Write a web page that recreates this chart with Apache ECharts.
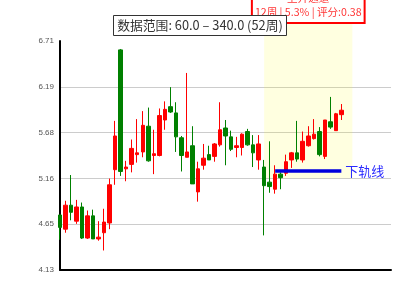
<!DOCTYPE html>
<html>
<head>
<meta charset="utf-8">
<script src="https://cdn.jsdelivr.net/npm/echarts@6/dist/echarts.min.js"></script>
<style>html,body{margin:0;padding:0;background:#fff}#c{width:400px;height:300px}</style>
</head>
<body>
<div id="c"></div>
<script>
// week categories (52 weeks of data)
var weeks = ['W01','W02','W03','W04','W05','W06','W07','W08','W09','W10','W11','W12','W13','W14','W15','W16','W17','W18','W19','W20','W21','W22','W23','W24','W25','W26','W27','W28','W29','W30','W31','W32','W33','W34','W35','W36','W37','W38','W39','W40','W41','W42','W43','W44','W45','W46','W47','W48','W49','W50','W51','W52'];
var openV  = [4.75,4.59,4.86,4.68,4.84,4.49,4.74,4.48,4.55,4.66,5.26,6.61,5.27,5.32,5.43,5.46,5.75,5.42,5.42,5.82,5.97,5.90,5.62,5.40,5.53,5.01,5.31,5.43,5.41,5.54,5.73,5.63,5.51,5.51,5.69,5.54,5.37,5.29,5.12,5.04,5.21,5.22,5.37,5.45,5.37,5.53,5.61,5.69,5.41,5.80,5.70,5.88];
var closeV = [4.61,4.86,4.78,4.84,4.49,4.74,4.48,4.50,4.67,5.09,5.64,5.24,5.29,5.50,5.45,5.76,5.36,5.44,5.87,5.94,5.91,5.63,5.42,5.46,5.10,5.27,5.39,5.37,5.55,5.71,5.64,5.49,5.53,5.66,5.54,5.45,5.55,5.08,5.07,5.21,5.17,5.35,5.45,5.38,5.58,5.64,5.66,5.43,5.82,5.74,5.89,5.93];
var lowV   = [4.47,4.55,4.69,4.65,4.48,4.48,4.48,4.46,4.35,4.59,5.09,5.19,5.13,5.23,5.34,5.40,5.35,5.21,5.41,5.71,5.90,5.46,5.24,5.40,5.10,4.90,5.26,5.37,5.35,5.52,5.31,5.47,5.40,5.42,5.53,5.29,5.26,4.52,5.00,4.99,5.04,5.19,5.28,5.35,5.34,5.52,5.60,5.41,5.38,5.72,5.70,5.82];
var highV  = [4.75,4.91,5.20,4.92,4.89,4.80,4.81,4.68,4.82,5.16,5.81,6.62,5.36,5.60,5.83,5.92,5.96,5.71,5.95,6.03,6.19,6.02,5.64,6.35,5.75,5.35,5.55,5.53,5.56,6.02,5.82,5.70,5.63,5.67,5.72,5.65,5.65,5.37,5.58,5.31,5.23,5.43,5.46,5.81,5.69,5.75,5.83,5.74,5.82,6.08,5.90,6.00];
var yTickLabels = ['4.13','4.65','5.16','5.68','6.19','6.71'];
var titleText = '数据范围: 60.0 – 340.0 (52周)';
var channelText = '上升通道\n12周 | 5.3% | 评分:0.38';
var lowerLineName = '下轨线';
var lowerLineValue = 5.245;
var lowerLineStart = 39, lowerLineEnd = 51;
var channelStart = 37, channelEnd = 53, channelTop = 6.924, channelBottom = 5.165;

var kData = openV.map(function (o, i) { return [o, closeV[i], lowV[i], highV[i]]; });

var chart = echarts.init(document.getElementById('c'), null, {renderer: 'canvas'});
chart.setOption({
  animation: false,
  textStyle: {fontFamily: '"Noto Sans CJK SC", "Noto Sans", sans-serif'},
  title: {
    text: titleText,
    left: 'center',
    top: 15,
    padding: [4, 4],
    borderColor: '#333',
    borderWidth: 1,
    backgroundColor: '#fff',
    textStyle: {fontSize: 12.8, fontWeight: 'normal', color: '#333', fontFamily: '"Noto Sans CJK SC", sans-serif'}
  },
  grid: {left: 60, right: 9, top: 41, bottom: 30},
  xAxis: {
    type: 'category',
    data: weeks,
    boundaryGap: false,
    max: 60,
    axisLine: {lineStyle: {color: '#000', width: 2}},
    axisTick: {show: false},
    axisLabel: {show: false},
    splitLine: {show: false}
  },
  yAxis: {
    type: 'value',
    min: 4.13,
    max: 6.71,
    interval: 0.516,
    axisLine: {show: true, lineStyle: {color: '#000', width: 2}},
    axisTick: {show: false},
    axisLabel: {
      fontSize: 8,
      color: '#555',
      margin: 6,
      fontFamily: '"Liberation Sans", sans-serif',
      formatter: function (v, idx) { return yTickLabels[idx]; }
    },
    splitLine: {show: true, showMaxLine: false, lineStyle: {color: '#ccc', width: 1}}
  },
  series: [{
    type: 'candlestick',
    data: kData,
    barWidth: 4,
    clip: false,
    itemStyle: {color: '#ff0000', color0: '#008000', borderColor: '#ff0000', borderColor0: '#008000', borderWidth: 1},
    markLine: {
      silent: true,
      symbol: ['none', 'none'],
      lineStyle: {color: '#0000dd', width: 3.5, type: 'solid'},
      label: {show: true, position: 'end', distance: 4, color: '#2b2bff', fontSize: 13, formatter: lowerLineName},
      data: [[{coord: [lowerLineStart, lowerLineValue]}, {coord: [lowerLineEnd, lowerLineValue]}]]
    }
  }]
});

// The channel highlight reaches above the axis maximum; convert its corners through the chart's own scales.
var p0 = chart.convertToPixel({gridIndex: 0}, [channelStart, channelTop]);
var p1 = chart.convertToPixel({gridIndex: 0}, [channelEnd, channelBottom]);
chart.setOption({
  series: [{
    markArea: {
      silent: true,
      itemStyle: {color: 'rgba(255,255,0,0.12)'},
      label: {
        show: true,
        position: 'top',
        distance: 0,
        color: '#f33',
        fontSize: 10.6,
        lineHeight: 14,
        align: 'center',
        backgroundColor: '#fff',
        borderColor: '#ff0000',
        borderWidth: 2,
        padding: [2, 2, 3, 2],
        formatter: channelText
      },
      data: [[{x: p0[0], y: p0[1]}, {x: p1[0], y: p1[1]}]]
    }
  }]
});
</script>
</body>
</html>
